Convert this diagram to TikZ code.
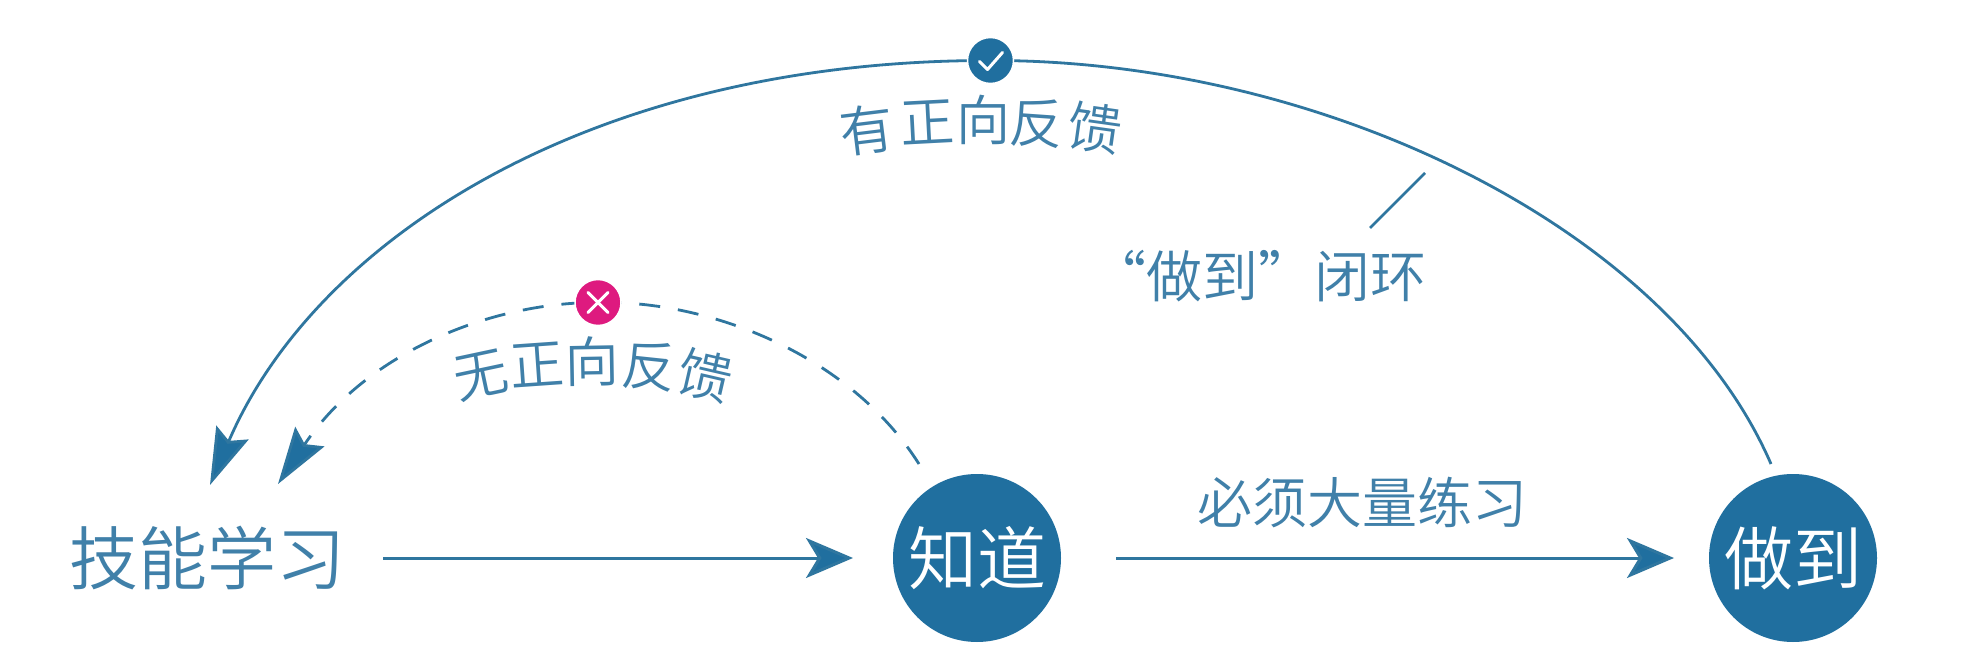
\documentclass[tikz,border=0pt]{standalone}
\usepackage{fontspec}
\usetikzlibrary{arrows.meta}
\newfontfamily\cjk{Noto Sans CJK SC DemiLight}
\definecolor{bluefill}{HTML}{206F9F}
\definecolor{bluetext}{HTML}{4080A9}
\definecolor{blueline}{HTML}{2F769F}
\definecolor{pinkfill}{HTML}{DE1A7F}
\tikzset{
  x=1pt,y=-1pt,
  lbl/.style={inner sep=0pt,outer sep=0pt,text=bluetext,font=\cjk\fontsize{#1}{#1}\selectfont},
  lbl/.default=54,
  bigdot/.style={circle,fill=bluefill,text=white,inner sep=0pt,outer sep=0pt,minimum size=168pt,font=\cjk\fontsize{69}{69}\selectfont},
  markdot/.style={circle,fill=#1,draw=white,line width=1.5pt,inner sep=0pt,outer sep=0pt,minimum size=46pt},
  tipped/.style={-{Stealth[length=47pt,width=40pt,inset=12pt,fill=bluefill]},color=blueline,line width=3pt},
  curvetip/.style={-{Stealth[length=57pt,width=35pt,inset=9pt,fill=bluefill]},color=blueline,line width=2.8pt},
  tick/.style={draw=white,line width=3pt,line cap=round,line join=round},
}
\begin{document}
\begin{tikzpicture}
\useasboundingbox (0,0) rectangle (1966,658);
\fill[white] (0,0) rectangle (1966,658);
% fixed points
\coordinate (topm) at (990.5,60.5);
\coordinate (pinkm) at (598,302.5);
\coordinate (solidstart) at (1771,464);
\coordinate (solidend) at (210,485);
\coordinate (dashstart) at (919,464);
\coordinate (dashend) at (278,484);
\coordinate (leadA) at (1425,173);
\coordinate (leadB) at (1370,228);
% main nodes
\node[lbl=69,minimum width=270pt,minimum height=70pt] (skill) at (207,558) {\raisebox{5pt}{技能学习}};
\node[bigdot] (know) at (977,558) {知道};
\node[bigdot] (done) at (1793,558) {做到};
% connectors
\draw[tipped,shorten >=40pt,shorten <=38pt] (skill) -- (know);
\draw[tipped,shorten >=35pt,shorten <=55pt] (know) -- (done);
\draw[curvetip] (solidstart) .. controls (1668,226) and (1320,60) .. (topm)
   .. controls (590,60) and (315,240) .. (solidend);
\draw[curvetip,dash pattern=on 21pt off 18pt,line width=2.8pt] (dashstart) .. controls (850,355) and (710,300) .. (pinkm)
   .. controls (495,302) and (368,350) .. (dashend);
\draw[color=blueline,line width=2.6pt] (leadA) -- (leadB);
% markers
\node[markdot=bluefill] (okm) at (topm) {};
\draw[tick] ([shift={(-11,1)}]okm.center) -- ([shift={(-3,9)}]okm.center) -- ([shift={(12,-8)}]okm.center);
\node[markdot=pinkfill] (nom) at (pinkm) {};
\draw[tick] ([shift={(-10,-10)}]nom.center) -- ([shift={(10,10)}]nom.center);
\draw[tick] ([shift={(-10,10)}]nom.center) -- ([shift={(10,-10)}]nom.center);
% labels along the arcs
\node[lbl,rotate=7] (a1) at (867,130) {有};
\node[lbl,rotate=3] (a2) at (927,122) {正};
\node[lbl] (a3) at (983,120) {向};
\node[lbl,rotate=-4] (a4) at (1037,123) {反};
\node[lbl,rotate=-8] (a5) at (1095,128) {馈};
\node[lbl,rotate=12] (b1) at (481,376) {无};
\node[lbl,rotate=4] (b2) at (537,365) {正};
\node[lbl,rotate=1] (b3) at (592,361) {向};
\node[lbl,rotate=-6] (b4) at (649,366) {反};
\node[lbl,rotate=-13] (b5) at (705,376) {馈};
\node[lbl=55] (drill) at (1362,503) {必须大量练习};
\node[lbl=56] (loop) at (1258,276) {“做到”闭环};
\end{tikzpicture}
\end{document}
